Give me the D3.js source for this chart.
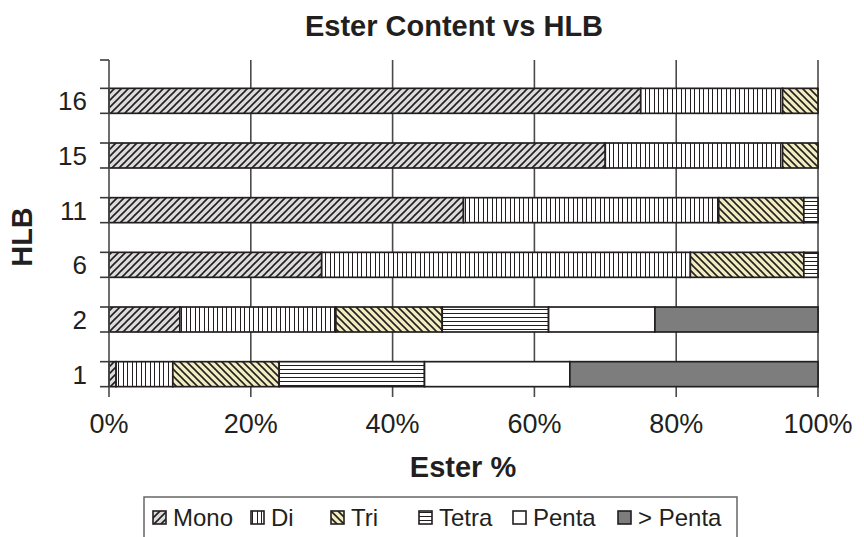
<!DOCTYPE html>
<html>
<head>
<meta charset="utf-8">
<script src="https://cdn.jsdelivr.net/npm/d3@7"></script>
<style>
  html, body { margin: 0; padding: 0; background: #fff; }
  svg { display: block; font-family: "Liberation Sans", Arial, sans-serif; }
</style>
</head>
<body>
<svg id="chart" width="864" height="537"></svg>
<script>
// HLB categories (bottom to top) and ester distribution (% of total)
const hlb = ["1", "2", "6", "11", "15", "16"];
const seriesNames = ["Mono", "Di", "Tri", "Tetra", "Penta", "> Penta"];
const mono   = [1,  10, 30, 50, 70, 75];
const di     = [8,  22, 52, 36, 25, 20];
const tri    = [15, 15, 16, 12, 5,  5];
const tetra  = [20.5, 15, 2, 2, 0, 0];
const penta  = [20.5, 15, 0, 0, 0, 0];
const gtPenta = [35, 23, 0, 0, 0, 0];
const xTicks = [0, 0.2, 0.4, 0.6, 0.8, 1.0];

const seriesValues = [mono, di, tri, tetra, penta, gtPenta];
const rows = hlb.map((h, i) => {
  const r = { hlb: h };
  seriesNames.forEach((s, k) => r[s] = seriesValues[k][i] / 100);
  return r;
});

const svg = d3.select("#chart");
const ink = "#231f20";

// fill patterns
const defs = svg.append("defs");
function pat(id, w, h, bg, draw) {
  const p = defs.append("pattern").attr("id", id)
    .attr("patternUnits", "userSpaceOnUse").attr("width", w).attr("height", h);
  p.append("rect").attr("width", w).attr("height", h).attr("fill", bg);
  draw(p);
}
pat("p-mono", 7, 7, "#dcdcdc", p => p.append("path")
  .attr("d", "M-1,1 L1,-1 M0,7 L7,0 M6,8 L8,6")
  .attr("stroke", ink).attr("stroke-width", 1.6));
pat("p-di", 9, 4, "#ffffff", p => p.append("path")
  .attr("d", "M1.5,0 V4 M6.5,0 V4")
  .attr("stroke", ink).attr("stroke-width", 1).attr("shape-rendering", "crispEdges"));
pat("p-tri", 7, 7, "#f1edc0", p => p.append("path")
  .attr("d", "M-1,6 L1,8 M0,0 L7,7 M6,-1 L8,1")
  .attr("stroke", ink).attr("stroke-width", 1.6));
pat("p-tetra", 4, 4, "#ffffff", p => p.append("path")
  .attr("d", "M0,1.5 H4")
  .attr("stroke", ink).attr("stroke-width", 1).attr("shape-rendering", "crispEdges"));

const fills = {
  "Mono": "url(#p-mono)",
  "Di": "url(#p-di)",
  "Tri": "url(#p-tri)",
  "Tetra": "url(#p-tetra)",
  "Penta": "#ffffff",
  "> Penta": "#7d7d7d"
};

// plot area
const plotLeft = 109, plotRight = 818, plotTop = 60, axisBottom = 397;
const x = d3.scaleLinear().domain([0, 1]).range([plotLeft, plotRight]);
const y = d3.scaleBand().domain(hlb).range([401.5, 73.5])
  .paddingInner(0.543).paddingOuter(0.2715);

// vertical gridlines (behind bars)
svg.append("g").selectAll("line").data(xTicks.slice(1)).join("line")
  .attr("x1", d => x(d)).attr("x2", d => x(d))
  .attr("y1", plotTop).attr("y2", axisBottom)
  .attr("stroke", "#4a4a4a").attr("stroke-width", 1.6);

// stacked bars
const stack = d3.stack().keys(seriesNames)(rows);
const layers = svg.append("g").selectAll("g").data(stack).join("g")
  .attr("fill", d => fills[d.key]);
layers.selectAll("rect").data(d => d.filter(v => v[1] - v[0] > 0)).join("rect")
  .attr("x", d => x(d[0]))
  .attr("width", d => x(d[1]) - x(d[0]))
  .attr("y", d => y(d.data.hlb))
  .attr("height", y.bandwidth())
  .attr("stroke", ink).attr("stroke-width", 1.7);

// y axis line and ticks at the bar edges
svg.append("line").attr("x1", plotLeft).attr("x2", plotLeft)
  .attr("y1", plotTop).attr("y2", axisBottom)
  .attr("stroke", "#4a4a4a").attr("stroke-width", 1.6);
const yTickPos = [plotTop];
hlb.forEach(h => { yTickPos.push(y(h)); yTickPos.push(y(h) + y.bandwidth()); });
svg.append("g").selectAll("line").data(yTickPos).join("line")
  .attr("x1", plotLeft - 9).attr("x2", plotLeft)
  .attr("y1", d => d).attr("y2", d => d)
  .attr("stroke", "#3a3a3a").attr("stroke-width", 1.6);

// y category labels
svg.append("g").selectAll("text").data(hlb).join("text")
  .attr("x", 87).attr("y", d => y(d) + y.bandwidth() / 2 + 9.5)
  .attr("text-anchor", "end").attr("font-size", 26).attr("fill", ink)
  .text(d => d);

// x tick labels
svg.append("g").selectAll("text").data(xTicks).join("text")
  .attr("x", d => x(d)).attr("y", 433)
  .attr("text-anchor", "middle").attr("font-size", 27).attr("fill", ink)
  .text(d3.format(".0%"));

// titles
svg.append("text").attr("x", 454).attr("y", 36).attr("text-anchor", "middle")
  .attr("font-size", 29).attr("font-weight", "bold").attr("fill", ink)
  .text("Ester Content vs HLB");
svg.append("text").attr("x", 463).attr("y", 477).attr("text-anchor", "middle")
  .attr("font-size", 29).attr("font-weight", "bold").attr("fill", ink)
  .text("Ester %");
svg.append("text").attr("transform", "translate(32,237) rotate(-90)")
  .attr("text-anchor", "middle")
  .attr("font-size", 29).attr("font-weight", "bold").attr("fill", ink)
  .text("HLB");

// legend
const legend = svg.append("g");
legend.append("rect").attr("x", 144).attr("y", 497).attr("width", 593).attr("height", 44)
  .attr("fill", "#fff").attr("stroke", "#666").attr("stroke-width", 1.5);
const legendX = [153, 251, 331, 419, 513, 618];
const items = legend.selectAll("g").data(seriesNames).join("g")
  .attr("transform", (d, i) => `translate(${legendX[i]},511)`);
items.append("rect").attr("width", 13).attr("height", 13)
  .attr("fill", d => fills[d]).attr("stroke", ink).attr("stroke-width", 1.6);
items.append("text").attr("x", 20).attr("y", 15)
  .attr("font-size", 24).attr("fill", ink).text(d => d);
</script>
</body>
</html>
